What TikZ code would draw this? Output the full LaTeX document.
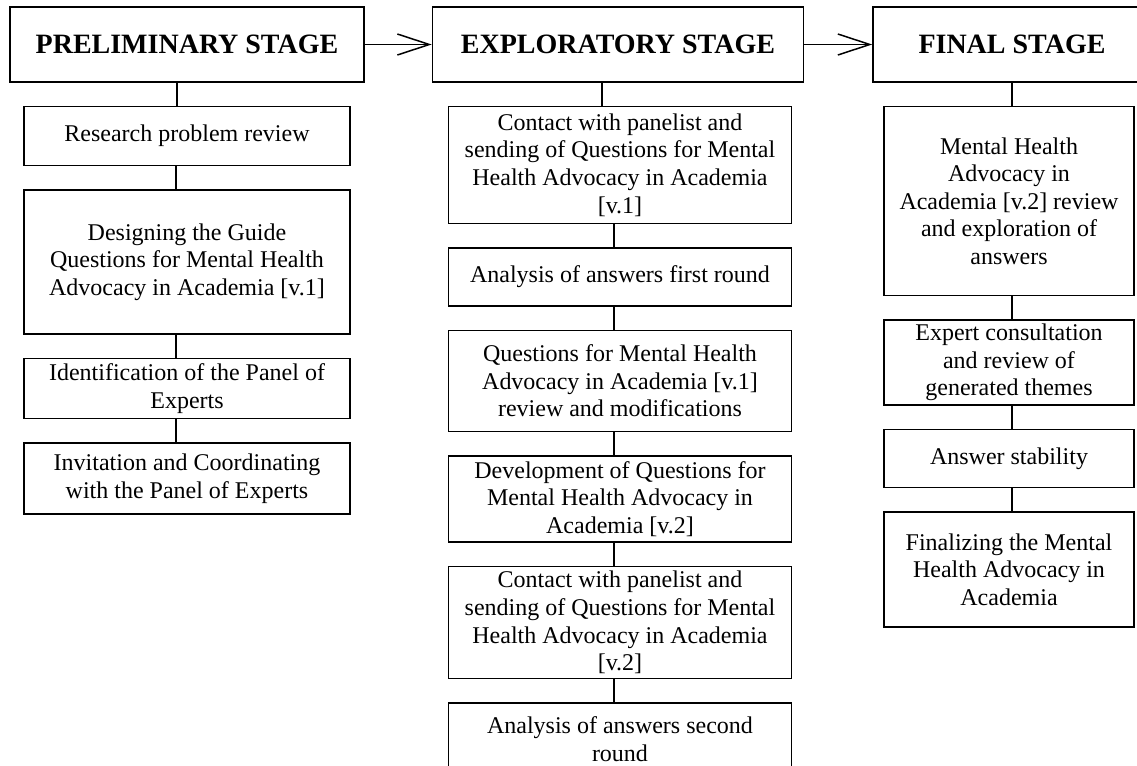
\documentclass[tikz,border=0pt]{standalone}
\usepackage{fontspec}
\setmainfont{Liberation Serif}
\usepackage{tikz}
\usetikzlibrary{arrows.meta,positioning}

\begin{document}
\begin{tikzpicture}[
    node distance=11.5pt and 33.5pt,
    stage/.style={draw, line width=0.75pt, minimum height=37.5pt, align=center, inner sep=2pt, font=\fontsize{14}{16}\selectfont\bfseries},
    stepbox/.style={draw, line width=0.75pt, minimum width=#1, align=center, inner sep=2pt, font=\fontsize{12}{13.8}\selectfont},
    stepbox/.default=163pt,
    arrow/.style={-{Straight Barb[length=16pt,width=10.5pt]}, line width=0.75pt},
    link/.style={line width=0.75pt},
]
\useasboundingbox (0,0) rectangle (568.5pt,-383pt);

% ── Stages ──
\node[stage, minimum width=177pt] (pre) at (93.5pt,-22.25pt) {PRELIMINARY STAGE};
\node[stage, minimum width=185.5pt, right=33.5pt of pre] (expl) {EXPLORATORY STAGE};
\node[stage, minimum width=139pt, right=34pt of expl] (fin) {FINAL STAGE};

% ── Preliminary ──
\node[stepbox, minimum height=29.5pt, below=of pre] (review) {Research problem review};
\node[stepbox, minimum height=72pt, below=of review] (design) {Designing the Guide\\Questions for Mental Health\\Advocacy in Academia [v.1]};
\node[stepbox, minimum height=30pt, below=of design] (ident) {Identification of the Panel of\\Experts};
\node[stepbox, minimum height=35.5pt, below=of ident] (invite) {Invitation and Coordinating\\with the Panel of Experts};

% ── Exploratory ──
\node[stepbox=171.5pt, minimum height=58.5pt, below=of expl, xshift=1pt] (contact1) {Contact with panelist and\\sending of Questions for Mental\\Health Advocacy in Academia\\{[v.1]}};
\node[stepbox=171.5pt, minimum height=29pt, below=of contact1] (first) {Analysis of answers first round};
\node[stepbox=171.5pt, minimum height=50.5pt, below=of first] (modif) {Questions for Mental Health\\Advocacy in Academia [v.1]\\review and modifications};
\node[stepbox=171.5pt, minimum height=43pt, below=of modif] (devel) {Development of Questions for\\Mental Health Advocacy in\\Academia [v.2]};
\node[stepbox=171.5pt, minimum height=56pt, below=of devel] (contact2) {Contact with panelist and\\sending of Questions for Mental\\Health Advocacy in Academia\\{[v.2]}};
\node[stepbox=171.5pt, minimum height=36pt, below=of contact2] (second) {Analysis of answers second\\round};

% ── Final ──
\node[stepbox=125pt, minimum height=94.5pt, below=of fin, xshift=-1.5pt] (explore) {Mental Health\\Advocacy in\\Academia [v.2] review\\and exploration of\\answers};
\node[stepbox=125pt, minimum height=42.5pt, below=of explore] (consult) {Expert consultation\\and review of\\generated themes};
\node[stepbox=125pt, minimum height=29pt, below=of consult] (stable) {Answer stability};
\node[stepbox=125pt, minimum height=57.5pt, below=of stable] (finalize) {Finalizing the Mental\\Health Advocacy in\\Academia};

% ── Arrows ──
\draw[arrow] (pre) -- (expl);
\draw[arrow] (expl) -- (expl -| fin.west);

% ── Links ──
\draw[link] ([xshift=-5pt]pre.south) -- ([xshift=-5pt]pre.south |- review.north);
\foreach \a/\b in {review/design, design/ident, ident/invite}
    \draw[link] ([xshift=-5.5pt]\a.south) -- ([xshift=-5.5pt]\b.north);
\draw[link] ([xshift=-8pt]expl.south) -- ([xshift=-8pt]expl.south |- contact1.north);
\foreach \a/\b in {contact1/first, first/modif, modif/devel, devel/contact2, contact2/second}
    \draw[link] ([xshift=-3pt]\a.south) -- ([xshift=-3pt]\b.north);
\draw[link] ([xshift=1.5pt]explore.north |- fin.south) -- ([xshift=1.5pt]explore.north);
\foreach \a/\b in {explore/consult, consult/stable, stable/finalize}
    \draw[link] ([xshift=1.5pt]\a.south) -- ([xshift=1.5pt]\b.north);

\end{tikzpicture}
\end{document}
